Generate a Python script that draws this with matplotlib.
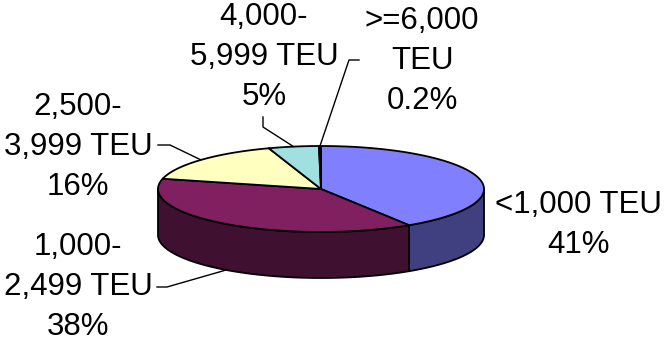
import numpy as np
import matplotlib.pyplot as plt
from matplotlib.patches import Polygon

plt.rcParams['font.family'] = ['Liberation Sans', 'DejaVu Sans']

# Fleet share by ship size class
classes = ["<1,000 TEU", "1,000-\n2,499 TEU", "2,500-\n3,999 TEU", "4,000-\n5,999 TEU", ">=6,000\nTEU"]
shares = [41, 38, 16, 5, 0.2]

top_colors = ["#8080ff", "#802060", "#ffffc0", "#a0e0e0", "#600070"]
side_colors = ["#404080", "#401030", "#808060", "#507070", "#300038"]

# pie geometry in pixel units (y grows downward)
CX, CY = 321, 189
RX, RY = 163, 43
DEPTH = 46


def rim(t, drop=0.0):
    # t in degrees, clockwise from 12 o'clock
    r = np.radians(t)
    return CX + RX * np.sin(r), CY - RY * np.cos(r) + drop


fig = plt.figure(figsize=(6.64, 3.45), dpi=100)
ax = fig.add_axes([0, 0, 1, 1])
ax.set_xlim(0, 664)
ax.set_ylim(345, 0)
ax.axis("off")

frac = np.array(shares, dtype=float) / sum(shares)
bounds = np.concatenate([[0], np.cumsum(frac)]) * 360

# side walls first (only the front half is visible)
for i in range(len(shares)):
    a, b = max(bounds[i], 90), min(bounds[i + 1], 270)
    if b <= a:
        continue
    t = np.linspace(a, b, 120)
    xs, ys = rim(t)
    xb, yb = rim(t[::-1], DEPTH)
    pts = np.column_stack([np.concatenate([xs, xb]), np.concatenate([ys, yb])])
    ax.add_patch(Polygon(pts, closed=True, fc=side_colors[i], ec="black",
                         lw=1.3, joinstyle="round"))

# top faces
for i in range(len(shares)):
    t = np.linspace(bounds[i], bounds[i + 1], 200)
    xs, ys = rim(t)
    pts = np.column_stack([np.concatenate([[CX], xs]), np.concatenate([[CY], ys])])
    ax.add_patch(Polygon(pts, closed=True, fc=top_colors[i], ec="black",
                         lw=1.3, joinstyle="round"))

# labels and leader lines
label_xy = [(578, 225), (78, 287), (78, 147), (264, 57), (422, 61)]
leader_start = [None,
                [(157, 287), (167, 287)],
                [(158, 145), (170, 145)],
                [(263, 117), (263, 127)],
                [(359, 60), (349, 60)]]

for i, name in enumerate(classes):
    txt = f"{name}\n{shares[i]:g}%"
    ax.text(label_xy[i][0], label_xy[i][1], txt, ha="center", va="center",
            multialignment="center", fontsize=22.5, linespacing=1.45, color="black")
    if leader_start[i] is None:
        continue
    mid = (bounds[i] + bounds[i + 1]) / 2
    drop = DEPTH if 90 < mid < 270 else 0
    mx, my = rim(mid, drop)
    px = [p[0] for p in leader_start[i]] + [mx]
    py = [p[1] for p in leader_start[i]] + [my]
    ax.plot(px, py, color="black", lw=1.0)

fig.savefig("out.png", dpi=100)
